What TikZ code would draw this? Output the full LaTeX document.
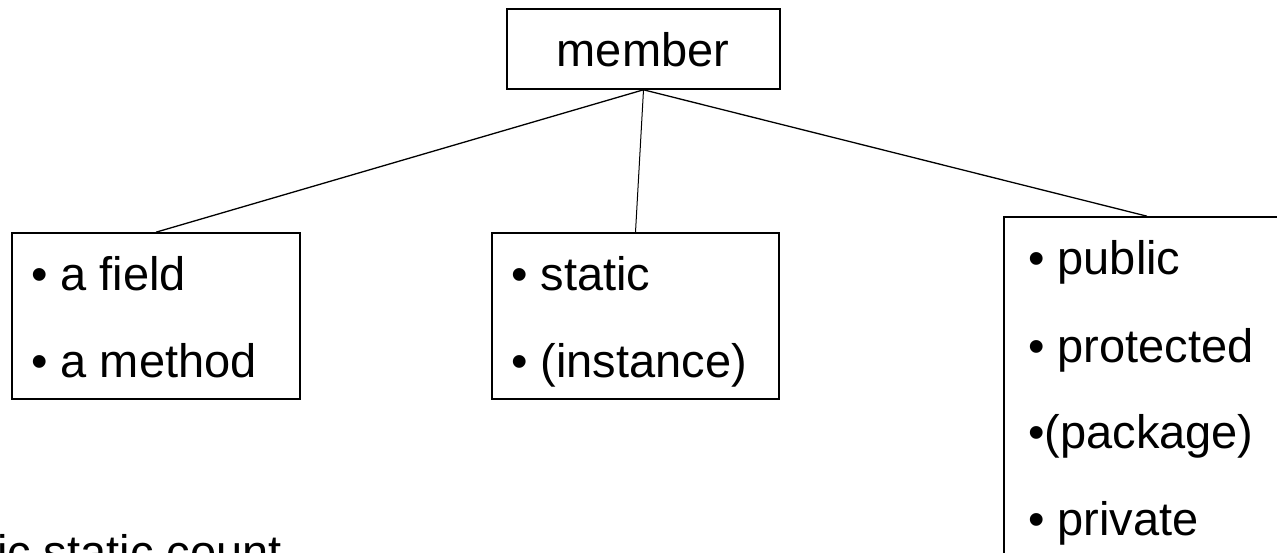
\documentclass[tikz,border=0pt]{standalone}
\usepackage{fontspec}
\setmainfont{Liberation Sans}
\begin{document}
\begin{tikzpicture}[x=1pt,y=-1pt,
  box/.style={draw=black, line width=1.6pt, rectangle, inner sep=0pt},
  conn/.style={draw=black, line width=1.3pt},
  txt/.style={anchor=base west, inner sep=0pt, font=\fontsize{47}{56}\selectfont},
]
\useasboundingbox (0,0) rectangle (1277,553);
% boxes
\node[box, minimum width=273pt, minimum height=80pt] (member) at (643.5,49) {};
\node[box, minimum width=288pt, minimum height=166pt] (kind) at (156,316) {};
\node[box, minimum width=287pt, minimum height=166pt] (scope) at (635.5,316) {};
\node[box, minimum width=286pt, minimum height=353pt] (access) at (1147,393.5) {};
% texts
\node[txt, anchor=base] (tmember) at (643,67) {member};
\node[txt] (t1) at (31,291) {• a field};
\node[txt] (t2) at (31,377) {• a method};
\node[txt] (t3) at (511,291) {• static};
\node[txt] (t4) at (511,377) {• (instance)};
\node[txt] (t5) at (1028,275) {• public};
\node[txt] (t6) at (1028,362) {• protected};
\node[txt] (t7) at (1028,448) {•(package)};
\node[txt] (t8) at (1028,535) {• private};
\node[txt, anchor=base east] (code) at (282,568) {public static count};
% connectors
\draw[conn] (member.south) -- (kind.north);
\draw[conn, line width=1pt] (member.south) -- (scope.north);
\draw[conn] (member.south) -- (access.north);
\end{tikzpicture}
\end{document}
